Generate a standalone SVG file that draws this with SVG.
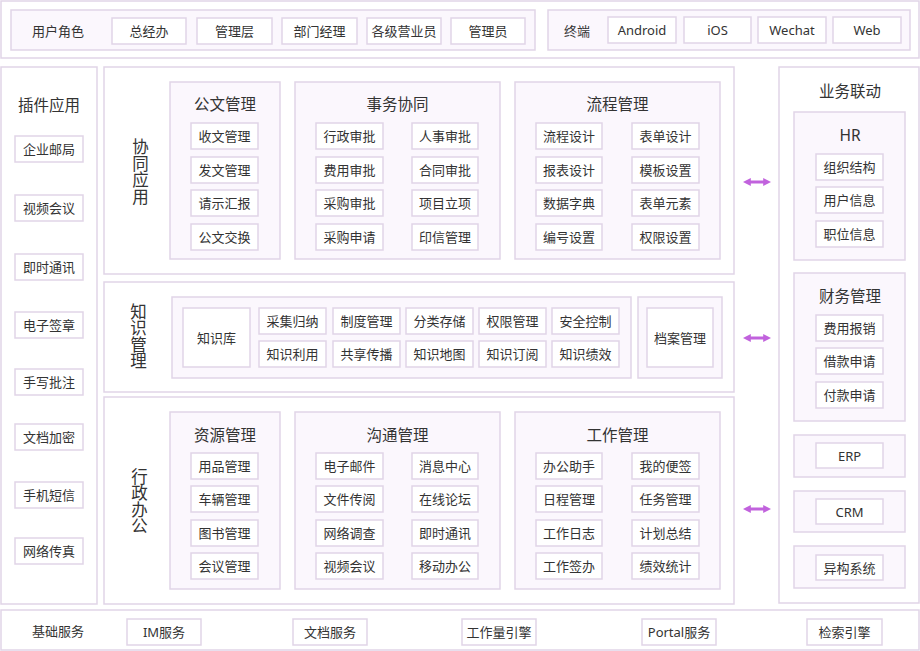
<svg xmlns="http://www.w3.org/2000/svg" width="920" height="651" viewBox="0 0 920 651">
<style>
text{font-family:"Noto Sans","Noto Sans CJK SC",sans-serif;fill:#333;text-anchor:middle;dominant-baseline:central}
.box{fill:#ffffff;stroke:#e1d5e7;stroke-width:1.5}
.grp{fill:#fbf7fd;stroke:#e1d5e7;stroke-width:1.5}
.it{font-size:13px}
.tt{font-size:15.5px}
.vt{font-size:16.5px;writing-mode:vertical-rl}
.arr{stroke:#c162dd;stroke-width:3;fill:none}
</style>
<defs>
<marker id="ah" viewBox="0 0 10 10" refX="1" refY="5" markerWidth="8" markerHeight="9" markerUnits="userSpaceOnUse" orient="auto-start-reverse">
<path d="M0,0 L10,5 L0,10 z" fill="#c162dd"/>
</marker>
</defs>
<rect width="920" height="651" fill="#ffffff"/>

<g id="top-bar">
<rect class="box" x="1" y="1" width="918" height="57"/>
<g id="user-roles">
<rect class="grp" x="11" y="10" width="524" height="40"/>
<text class="it" x="58" y="31">用户角色</text>
<rect class="box" x="112" y="18" width="74" height="26"/><text class="it" x="149" y="31">总经办</text>
<rect class="box" x="197" y="18" width="75" height="26"/><text class="it" x="234.5" y="31">管理层</text>
<rect class="box" x="282" y="18" width="75" height="26"/><text class="it" x="319.5" y="31">部门经理</text>
<rect class="box" x="367" y="18" width="74" height="26"/><text class="it" x="404" y="31">各级营业员</text>
<rect class="box" x="451" y="18" width="74" height="26"/><text class="it" x="488" y="31">管理员</text>
</g>
<g id="terminals">
<rect class="grp" x="548" y="10" width="362" height="40"/>
<text class="it" x="577" y="31">终端</text>
<rect class="box" x="608" y="17" width="68" height="26"/><text class="it" x="642" y="30">Android</text>
<rect class="box" x="684" y="17" width="67" height="26"/><text class="it" x="717.5" y="30">iOS</text>
<rect class="box" x="758" y="17" width="68" height="26"/><text class="it" x="792" y="30">Wechat</text>
<rect class="box" x="833" y="17" width="68" height="26"/><text class="it" x="867" y="30">Web</text>
</g>
</g>

<g id="plugins">
<rect class="box" x="1" y="67" width="96" height="537"/>
<text class="tt" x="49" y="105">插件应用</text>
<rect class="box" x="15" y="136" width="68" height="26"/><text class="it" x="49" y="149">企业邮局</text>
<rect class="box" x="15" y="195" width="68" height="26"/><text class="it" x="49" y="208">视频会议</text>
<rect class="box" x="15" y="254" width="68" height="26"/><text class="it" x="49" y="267">即时通讯</text>
<rect class="box" x="15" y="312" width="68" height="26"/><text class="it" x="49" y="325">电子签章</text>
<rect class="box" x="15" y="369" width="68" height="26"/><text class="it" x="49" y="382">手写批注</text>
<rect class="box" x="15" y="424" width="68" height="26"/><text class="it" x="49" y="437">文档加密</text>
<rect class="box" x="15" y="482" width="68" height="26"/><text class="it" x="49" y="495">手机短信</text>
<rect class="box" x="15" y="538" width="68" height="26"/><text class="it" x="49" y="551">网络传真</text>
</g>

<g id="collab">
<rect class="box" x="104" y="67" width="630" height="207"/>
<text class="vt" x="140" y="171.5">协同应用</text>
<g id="doc-mgmt">
<rect class="grp" x="170" y="82" width="110" height="177"/>
<text class="tt" x="225" y="104">公文管理</text>
<rect class="box" x="191" y="123" width="67" height="26"/><text class="it" x="224.5" y="136">收文管理</text>
<rect class="box" x="191" y="157" width="67" height="26"/><text class="it" x="224.5" y="170">发文管理</text>
<rect class="box" x="191" y="190" width="67" height="26"/><text class="it" x="224.5" y="203">请示汇报</text>
<rect class="box" x="191" y="224" width="67" height="26"/><text class="it" x="224.5" y="237">公文交换</text>
</g>
<g id="affairs">
<rect class="grp" x="295" y="82" width="205" height="177"/>
<text class="tt" x="397.5" y="104">事务协同</text>
<rect class="box" x="316" y="123" width="67" height="26"/><text class="it" x="349.5" y="136">行政审批</text>
<rect class="box" x="316" y="157" width="67" height="26"/><text class="it" x="349.5" y="170">费用审批</text>
<rect class="box" x="316" y="190" width="67" height="26"/><text class="it" x="349.5" y="203">采购审批</text>
<rect class="box" x="316" y="224" width="67" height="26"/><text class="it" x="349.5" y="237">采购申请</text>
<rect class="box" x="412" y="123" width="66" height="26"/><text class="it" x="445" y="136">人事审批</text>
<rect class="box" x="412" y="157" width="66" height="26"/><text class="it" x="445" y="170">合同审批</text>
<rect class="box" x="412" y="190" width="66" height="26"/><text class="it" x="445" y="203">项目立项</text>
<rect class="box" x="412" y="224" width="66" height="26"/><text class="it" x="445" y="237">印信管理</text>
</g>
<g id="flow-mgmt">
<rect class="grp" x="515" y="82" width="205" height="177"/>
<text class="tt" x="617.5" y="104">流程管理</text>
<rect class="box" x="536" y="123" width="66" height="26"/><text class="it" x="569" y="136">流程设计</text>
<rect class="box" x="536" y="157" width="66" height="26"/><text class="it" x="569" y="170">报表设计</text>
<rect class="box" x="536" y="190" width="66" height="26"/><text class="it" x="569" y="203">数据字典</text>
<rect class="box" x="536" y="224" width="66" height="26"/><text class="it" x="569" y="237">编号设置</text>
<rect class="box" x="632" y="123" width="67" height="26"/><text class="it" x="665.5" y="136">表单设计</text>
<rect class="box" x="632" y="157" width="67" height="26"/><text class="it" x="665.5" y="170">模板设置</text>
<rect class="box" x="632" y="190" width="67" height="26"/><text class="it" x="665.5" y="203">表单元素</text>
<rect class="box" x="632" y="224" width="67" height="26"/><text class="it" x="665.5" y="237">权限设置</text>
</g>
</g>

<g id="knowledge">
<rect class="box" x="104" y="282" width="630" height="110"/>
<text class="vt" x="138" y="336">知识管理</text>
<g id="kb">
<rect class="grp" x="172" y="297" width="459" height="81"/>
<rect class="box" x="183" y="308" width="67" height="59"/><text class="it" x="216.5" y="337.5">知识库</text>
<rect class="box" x="259" y="308" width="67" height="26"/><text class="it" x="292.5" y="321">采集归纳</text>
<rect class="box" x="333" y="308" width="67" height="26"/><text class="it" x="366.5" y="321">制度管理</text>
<rect class="box" x="406" y="308" width="67" height="26"/><text class="it" x="439.5" y="321">分类存储</text>
<rect class="box" x="479" y="308" width="67" height="26"/><text class="it" x="512.5" y="321">权限管理</text>
<rect class="box" x="552" y="308" width="67" height="26"/><text class="it" x="585.5" y="321">安全控制</text>
<rect class="box" x="259" y="341" width="67" height="26"/><text class="it" x="292.5" y="354">知识利用</text>
<rect class="box" x="333" y="341" width="67" height="26"/><text class="it" x="366.5" y="354">共享传播</text>
<rect class="box" x="406" y="341" width="67" height="26"/><text class="it" x="439.5" y="354">知识地图</text>
<rect class="box" x="479" y="341" width="67" height="26"/><text class="it" x="512.5" y="354">知识订阅</text>
<rect class="box" x="552" y="341" width="67" height="26"/><text class="it" x="585.5" y="354">知识绩效</text>
</g>
<g id="archive">
<rect class="grp" x="638" y="297" width="84" height="81"/>
<rect class="box" x="647" y="308" width="66" height="59"/><text class="it" x="680" y="337.5">档案管理</text>
</g>
</g>

<g id="admin">
<rect class="box" x="104" y="397" width="630" height="207"/>
<text class="vt" x="139" y="501">行政办公</text>
<g id="resource">
<rect class="grp" x="170" y="412" width="110" height="177"/>
<text class="tt" x="225" y="435">资源管理</text>
<rect class="box" x="191" y="453" width="67" height="26"/><text class="it" x="224.5" y="466">用品管理</text>
<rect class="box" x="191" y="486" width="67" height="26"/><text class="it" x="224.5" y="499">车辆管理</text>
<rect class="box" x="191" y="520" width="67" height="26"/><text class="it" x="224.5" y="533">图书管理</text>
<rect class="box" x="191" y="553" width="67" height="26"/><text class="it" x="224.5" y="566">会议管理</text>
</g>
<g id="comm">
<rect class="grp" x="295" y="412" width="205" height="177"/>
<text class="tt" x="397.5" y="435">沟通管理</text>
<rect class="box" x="316" y="453" width="67" height="26"/><text class="it" x="349.5" y="466">电子邮件</text>
<rect class="box" x="316" y="486" width="67" height="26"/><text class="it" x="349.5" y="499">文件传阅</text>
<rect class="box" x="316" y="520" width="67" height="26"/><text class="it" x="349.5" y="533">网络调查</text>
<rect class="box" x="316" y="553" width="67" height="26"/><text class="it" x="349.5" y="566">视频会议</text>
<rect class="box" x="412" y="453" width="66" height="26"/><text class="it" x="445" y="466">消息中心</text>
<rect class="box" x="412" y="486" width="66" height="26"/><text class="it" x="445" y="499">在线论坛</text>
<rect class="box" x="412" y="520" width="66" height="26"/><text class="it" x="445" y="533">即时通讯</text>
<rect class="box" x="412" y="553" width="66" height="26"/><text class="it" x="445" y="566">移动办公</text>
</g>
<g id="work">
<rect class="grp" x="515" y="412" width="205" height="177"/>
<text class="tt" x="617.5" y="435">工作管理</text>
<rect class="box" x="536" y="453" width="66" height="26"/><text class="it" x="569" y="466">办公助手</text>
<rect class="box" x="536" y="486" width="66" height="26"/><text class="it" x="569" y="499">日程管理</text>
<rect class="box" x="536" y="520" width="66" height="26"/><text class="it" x="569" y="533">工作日志</text>
<rect class="box" x="536" y="553" width="66" height="26"/><text class="it" x="569" y="566">工作签办</text>
<rect class="box" x="632" y="453" width="67" height="26"/><text class="it" x="665.5" y="466">我的便签</text>
<rect class="box" x="632" y="486" width="67" height="26"/><text class="it" x="665.5" y="499">任务管理</text>
<rect class="box" x="632" y="520" width="67" height="26"/><text class="it" x="665.5" y="533">计划总结</text>
<rect class="box" x="632" y="553" width="67" height="26"/><text class="it" x="665.5" y="566">绩效统计</text>
</g>
</g>

<g id="business">
<rect class="box" x="779" y="67" width="140" height="536"/>
<text class="tt" x="850" y="91">业务联动</text>
<g id="hr">
<rect class="grp" x="794" y="112" width="111" height="148"/>
<text class="tt" x="850" y="135">HR</text>
<rect class="box" x="816" y="154" width="67" height="26"/><text class="it" x="849.5" y="167">组织结构</text>
<rect class="box" x="816" y="187" width="67" height="26"/><text class="it" x="849.5" y="200">用户信息</text>
<rect class="box" x="816" y="221" width="67" height="26"/><text class="it" x="849.5" y="234">职位信息</text>
</g>
<g id="finance">
<rect class="grp" x="794" y="273" width="111" height="148"/>
<text class="tt" x="850" y="296">财务管理</text>
<rect class="box" x="816" y="315" width="67" height="26"/><text class="it" x="849.5" y="328">费用报销</text>
<rect class="box" x="816" y="348" width="67" height="26"/><text class="it" x="849.5" y="361">借款申请</text>
<rect class="box" x="816" y="382" width="67" height="26"/><text class="it" x="849.5" y="395">付款申请</text>
</g>
<g id="erp">
<rect class="grp" x="794" y="435" width="111" height="42"/>
<rect class="box" x="816" y="443" width="67" height="25"/><text class="it" x="849.5" y="455.5">ERP</text>
</g>
<g id="crm">
<rect class="grp" x="794" y="491" width="111" height="41"/>
<rect class="box" x="816" y="499" width="67" height="25"/><text class="it" x="849.5" y="511.5">CRM</text>
</g>
<g id="hetero">
<rect class="grp" x="794" y="546" width="111" height="42"/>
<rect class="box" x="816" y="555" width="67" height="25"/><text class="it" x="849.5" y="567.5">异构系统</text>
</g>
</g>

<g id="base">
<rect class="box" x="1" y="610" width="918" height="40"/>
<text class="it" x="58" y="631">基础服务</text>
<rect class="box" x="127" y="619" width="74" height="26"/><text class="it" x="164" y="632">IM服务</text>
<rect class="box" x="293" y="619" width="74" height="26"/><text class="it" x="330" y="632">文档服务</text>
<rect class="box" x="462" y="619" width="74" height="26"/><text class="it" x="499" y="632">工作量引擎</text>
<rect class="box" x="642" y="619" width="74" height="26"/><text class="it" x="679" y="632">Portal服务</text>
<rect class="box" x="807" y="619" width="75" height="26"/><text class="it" x="844.5" y="632">检索引擎</text>
</g>

<g id="connectors">
<line class="arr" x1="750" y1="182" x2="764" y2="182" marker-start="url(#ah)" marker-end="url(#ah)"/>
<line class="arr" x1="750" y1="338" x2="764" y2="338" marker-start="url(#ah)" marker-end="url(#ah)"/>
<line class="arr" x1="750" y1="509" x2="764" y2="509" marker-start="url(#ah)" marker-end="url(#ah)"/>
</g>
</svg>
